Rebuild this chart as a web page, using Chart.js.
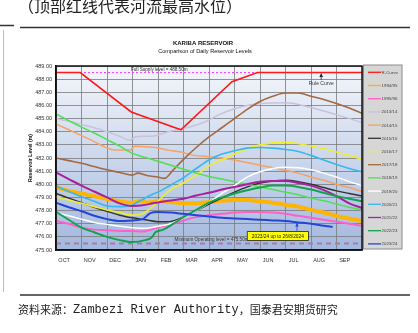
<!DOCTYPE html>
<html>
<head>
<meta charset="utf-8">
<script src="https://cdn.jsdelivr.net/npm/chart.js@4.4.1/dist/chart.umd.min.js"></script>
<style>
html, body { margin: 0; padding: 0; background: #fff; }
#wrap { position: relative; width: 418px; height: 333px; overflow: hidden; }
canvas { display: block; }
</style>
</head>
<body>
<div id="wrap"><canvas id="kariba" width="418" height="333"></canvas></div>
<script>
// hydrological year starts in October, x = months since 1 Oct
const months = ['OCT', 'NOV', 'DEC', 'JAN', 'FEB', 'MAR', 'APR', 'MAY', 'JUN', 'JUL', 'AUG', 'SEP'];
const levelMin = 475;
const levelMax = 489;
const fullSupply = 488.5;
const minOperating = 475.5;

// [month, level m]
const rCurve = [[0, 488.5], [0.95, 488.5], [2.95, 485.5], [4.9, 484.15], [6.9, 487.8], [7.9, 488.5], [12, 488.5]];
const y1994 = [[0, 479.8], [0.5, 479.5], [1, 479.3], [1.5, 479.1], [2, 478.9], [2.5, 478.7], [3, 478.6], [3.3, 478.75], [3.6, 478.6], [4, 478.7], [4.5, 478.65], [5, 478.55], [5.5, 478.55], [6, 478.65], [6.5, 478.75], [7, 478.8], [7.5, 478.8], [8, 478.7], [8.5, 478.6], [9, 478.45], [9.5, 478.3], [10, 478.05], [10.5, 477.85], [11, 477.6], [11.5, 477.4], [12, 477.2]];
const y1995 = [[0, 477.2], [0.5, 477.0], [1, 476.7], [1.5, 476.55], [2, 476.5], [2.5, 476.45], [3, 476.45], [3.4, 476.4], [3.8, 476.6], [4.2, 476.8], [4.6, 477.0], [5, 477.25], [5.5, 477.5], [6, 477.65], [6.5, 477.75], [7, 477.85], [7.5, 477.9], [8, 477.9], [8.5, 477.85], [9, 477.75], [9.5, 477.6], [10, 477.45], [10.5, 477.3], [11, 477.15], [11.5, 477.0], [12, 476.85]];
const y2013 = [[0, 485.0], [0.5, 484.8], [1, 484.55], [1.5, 484.3], [2, 484.0], [2.5, 483.65], [2.9, 483.35], [3.1, 483.6], [3.5, 483.65], [3.9, 483.7], [4.4, 484.0], [4.9, 484.2], [5.4, 484.45], [5.9, 484.8], [6.4, 485.3], [7, 485.75], [7.5, 486.0], [8, 486.15], [9, 486.2], [10, 485.85], [11, 485.3], [12, 484.7]];
const y2014 = [[0, 484.6], [0.5, 484.15], [1, 483.7], [1.5, 483.25], [1.9, 482.85], [2.3, 482.6], [2.9, 482.6], [3.1, 482.9], [3.5, 482.85], [3.9, 482.8], [4.4, 482.6], [4.9, 482.45], [5.4, 482.2], [6, 482.1], [6.5, 482.0], [7, 481.85], [7.5, 481.65], [8, 481.45], [8.5, 481.25], [9, 481.05], [9.5, 480.85], [10, 480.55], [10.5, 480.3], [11, 480.0], [11.5, 479.75], [12, 479.45]];
const y2015 = [[0, 479.3], [0.5, 478.95], [1, 478.6], [1.5, 478.25], [2, 477.95], [2.5, 477.65], [3, 477.45], [3.5, 477.3], [4, 477.15], [4.4, 477.15], [4.8, 477.35], [5.2, 477.7], [5.6, 478.1], [6, 478.5], [6.5, 478.95], [7, 479.4], [7.5, 479.8], [8, 480.1], [8.5, 480.25], [9, 480.3], [9.5, 480.2], [10, 480.0], [10.5, 479.75], [11, 479.5], [11.5, 479.3], [12, 479.1]];
const y2016 = [[0, 479.05], [0.5, 478.8], [1, 478.55], [1.5, 478.3], [2, 478.05], [2.5, 477.85], [3, 477.65], [3.3, 477.7], [3.6, 478.0], [3.9, 478.5], [4.2, 479.1], [4.5, 479.6], [5, 480.1], [5.5, 480.7], [6, 481.4], [6.5, 481.85], [7, 482.3], [7.5, 482.7], [8, 483.0], [8.5, 483.15], [9, 483.2], [9.5, 483.1], [10, 482.9], [10.5, 482.7], [11, 482.45], [11.5, 482.2], [12, 481.9]];
const y2017 = [[0, 482.0], [0.5, 481.8], [1, 481.6], [1.5, 481.35], [2, 481.1], [2.5, 480.9], [3, 480.7], [3.2, 480.85], [3.6, 480.65], [4, 480.55], [4.25, 480.45], [4.6, 481.1], [5, 481.9], [5.5, 482.8], [6, 483.6], [6.5, 484.3], [7, 485.0], [7.5, 485.7], [8, 486.3], [8.5, 486.7], [9, 486.95], [9.5, 486.95], [10, 486.7], [10.5, 486.45], [11, 486.15], [11.5, 485.8], [12, 485.4]];
const y2018 = [[0, 485.35], [0.5, 484.85], [1, 484.35], [1.5, 483.9], [2, 483.4], [2.5, 482.9], [3, 482.35], [3.5, 482.05], [4, 481.75], [4.5, 481.45], [5, 481.15], [5.5, 480.85], [6, 480.6], [6.5, 480.4], [7, 480.2], [7.5, 480.0], [8, 479.8], [8.5, 479.6], [9, 479.4], [9.5, 479.2], [10, 478.95], [10.5, 478.75], [11, 478.5], [11.5, 478.25], [12, 478.05]];
const y2019 = [[0, 477.85], [0.5, 477.6], [1, 477.35], [1.5, 477.1], [2, 476.95], [2.5, 476.8], [3, 476.7], [3.5, 476.65], [4, 476.8], [4.5, 477.0], [5, 477.45], [5.5, 478.0], [6, 478.6], [6.5, 479.3], [7, 479.9], [7.5, 480.55], [8, 480.95], [8.5, 481.2], [9, 481.3], [9.5, 481.25], [10, 481.1], [10.5, 480.85], [11, 480.55], [11.5, 480.2], [12, 479.9]];
const y2020 = [[0, 479.85], [0.5, 479.45], [1, 479.05], [1.5, 478.7], [2, 478.35], [2.5, 478.3], [2.9, 478.35], [3.3, 478.75], [3.75, 479.2], [4.1, 479.5], [4.5, 479.95], [5, 480.5], [5.5, 481.2], [6, 481.85], [6.5, 482.3], [7, 482.55], [7.5, 482.75], [8, 482.8], [8.5, 482.75], [9, 482.65], [9.5, 482.5], [10, 482.2], [10.5, 481.85], [11, 481.5], [11.5, 481.2], [12, 480.95]];
const y2021 = [[0, 480.9], [0.5, 480.4], [1, 479.9], [1.5, 479.45], [2, 479.0], [2.5, 478.55], [3, 478.35], [3.4, 478.4], [3.8, 478.55], [4.4, 478.75], [5, 478.9], [5.5, 479.15], [6, 479.35], [6.5, 479.6], [7, 479.8], [7.5, 480.0], [8, 480.2], [8.5, 480.25], [9, 480.25], [9.5, 480.1], [10, 479.9], [10.5, 479.55], [11, 479.1], [11.5, 478.55], [12, 478.2]];
const y2022 = [[0, 477.9], [0.5, 477.3], [1, 476.7], [1.5, 476.35], [2, 476.0], [2.5, 475.75], [3, 475.6], [3.5, 475.75], [3.75, 475.95], [3.9, 476.35], [4.2, 476.55], [4.6, 477.0], [5, 477.5], [5.5, 478.05], [6, 478.6], [6.5, 479.0], [7, 479.3], [7.5, 479.55], [8, 479.75], [8.5, 479.9], [9, 479.9], [9.5, 479.8], [10, 479.6], [10.5, 479.35], [11, 479.1], [11.5, 478.9], [12, 478.7]];
const y2023 = [[0, 478.6], [0.5, 478.25], [1, 477.95], [1.5, 477.6], [2, 477.35], [2.5, 477.2], [3, 477.25], [3.4, 477.35], [3.7, 477.8], [4, 477.9], [4.5, 477.85], [5, 477.75], [5.5, 477.65], [6, 477.55], [6.5, 477.45], [7, 477.4], [7.5, 477.35], [8, 477.3], [8.5, 477.25], [9, 477.2], [9.5, 477.1], [10, 477.0], [10.5, 476.85], [10.85, 476.75]];

const pts = arr => arr.map(([x, y]) => ({ x, y }));

function series(label, data, color, width) {
  return {
    label, data: pts(data), borderColor: color, backgroundColor: color,
    borderWidth: width, pointRadius: 0, cubicInterpolationMode: 'monotone', fill: false
  };
}

const datasets = [
  { label: 'R-Curve', data: pts(rCurve), borderColor: '#ff1a1a', backgroundColor: '#ff1a1a', borderWidth: 1.6, pointRadius: 0, tension: 0 },
  series('2023/24', y2023, '#2545d8', 2),
  series('2022/23', y2022, '#13a34f', 2),
  series('2021/22', y2021, '#a8219a', 2),
  series('2020/21', y2020, '#35b8ee', 1.6),
  series('2019/20', y2019, '#ffffff', 1.5),
  series('2018/19', y2018, '#4fe04f', 1.5),
  series('2017/18', y2017, '#a4693f', 1.6),
  series('2016/17', y2016, '#eeee30', 1.6),
  series('2015/16', y2015, '#333333', 1.5),
  series('2014/15', y2014, '#f5a262', 1.5),
  series('2013/14', y2013, '#c9c1dc', 1.5),
  series('1995/96', y1995, '#ff5fcb', 2),
  series('1994/95', y1994, '#ffb400', 4),
  { label: 'Full Supply', data: pts([[0, fullSupply], [12, fullSupply]]), borderColor: '#ff33ff', borderWidth: 1, borderDash: [2, 2], pointRadius: 0, noLegend: true },
  { label: 'Minimum Operating', data: pts([[0, minOperating], [12, minOperating]]), borderColor: '#a77aa7', borderWidth: 2, borderDash: [5, 4], pointRadius: 0, noLegend: true }
];

// order of the legend box
const legendOrder = ['R-Curve', '1994/95', '1995/96', '2013/14', '2014/15', '2015/16', '2016/17', '2017/18', '2018/19', '2019/20', '2020/21', '2021/22', '2022/23', '2023/24'];

const plotBackground = {
  id: 'plotBackground',
  beforeDraw(chart) {
    const { ctx, chartArea: a } = chart;
    ctx.save();
    ctx.fillStyle = '#fff';
    ctx.fillRect(0, 0, chart.width, chart.height);
    const g = ctx.createLinearGradient(0, a.top, 0, a.bottom);
    g.addColorStop(0, '#f4f6fb');
    g.addColorStop(1, '#a3b8de');
    ctx.fillStyle = g;
    ctx.fillRect(a.left, a.top, a.right - a.left, a.bottom - a.top);
    ctx.restore();
  }
};

function arrow(ctx, x, y1, y2, color) {
  ctx.strokeStyle = color;
  ctx.fillStyle = color;
  ctx.lineWidth = 0.8;
  ctx.beginPath();
  ctx.moveTo(x, y1);
  ctx.lineTo(x, y2);
  ctx.stroke();
  ctx.beginPath();
  ctx.moveTo(x, y2);
  ctx.lineTo(x - 1.8, y2 + 3.5);
  ctx.lineTo(x + 1.8, y2 + 3.5);
  ctx.closePath();
  ctx.fill();
}

const decorations = {
  id: 'decorations',
  afterDatasetsDraw(chart) {
    const { ctx, chartArea: a, scales: { x, y } } = chart;
    ctx.save();
    // frame
    ctx.strokeStyle = '#111';
    ctx.lineWidth = 1.5;
    ctx.strokeRect(a.left, a.top, a.right - a.left, a.bottom - a.top);

    ctx.font = '4.6px "Liberation Sans", Arial, sans-serif';
    ctx.fillStyle = '#333';
    ctx.textAlign = 'center';
    ctx.textBaseline = 'bottom';
    ctx.fillText('Full Supply level = 488.50m', x.getPixelForValue(4.05), y.getPixelForValue(fullSupply) - 1);
    ctx.fillText('Minimum Operating level = 475.50m', x.getPixelForValue(6.1), y.getPixelForValue(minOperating) - 1.5);

    // rule curve pointer
    const rx = x.getPixelForValue(10.4);
    arrow(ctx, rx, y.getPixelForValue(487.95), y.getPixelForValue(fullSupply) + 1, '#222');
    ctx.fillStyle = '#333';
    ctx.font = '5px "Liberation Sans", Arial, sans-serif';
    ctx.textBaseline = 'top';
    ctx.fillText('Rule Curve', rx, y.getPixelForValue(487.88));

    // latest season tag
    const bx1 = x.getPixelForValue(7.5), bx2 = x.getPixelForValue(9.9);
    const by1 = y.getPixelForValue(476.4), by2 = y.getPixelForValue(475.72);
    ctx.fillStyle = '#ffff00';
    ctx.fillRect(bx1, by1, bx2 - bx1, by2 - by1);
    ctx.strokeStyle = '#222';
    ctx.lineWidth = 0.8;
    ctx.strokeRect(bx1, by1, bx2 - bx1, by2 - by1);
    ctx.fillStyle = '#111';
    ctx.textBaseline = 'middle';
    ctx.font = '4.8px "Liberation Sans", Arial, sans-serif';
    ctx.fillText('2023/24 up to 26/8/2024', (bx1 + bx2) / 2, (by1 + by2) / 2 + 0.3);
    arrow(ctx, x.getPixelForValue(9.45), by1, y.getPixelForValue(477.05), '#2545d8');
    ctx.restore();
  },
  afterDraw(chart) {
    const { ctx, chartArea: a } = chart;
    ctx.save();
    // titles
    ctx.fillStyle = '#111';
    ctx.textAlign = 'center';
    ctx.textBaseline = 'middle';
    ctx.font = 'bold 6px "Liberation Sans", Arial, sans-serif';
    ctx.fillText('KARIBA RESERVOIR', 203, 43.5);
    ctx.font = '5.6px "Liberation Sans", Arial, sans-serif';
    ctx.fillText('Comparison of Daily Reservoir Levels', 205, 51.5);

    ctx.save();
    ctx.translate(31, (a.top + a.bottom) / 2);
    ctx.rotate(-Math.PI / 2);
    ctx.font = 'bold 5.2px "Liberation Sans", Arial, sans-serif';
    ctx.fillText('Reservoir Level (m)', 0, 0);
    ctx.restore();

    // legend box
    const lx = 363.5, ly = 65, lw = 38.5, lh = 184;
    ctx.fillStyle = '#d6d6d6';
    ctx.fillRect(lx, ly, lw, lh);
    ctx.strokeStyle = '#8c8c8c';
    ctx.lineWidth = 1;
    ctx.strokeRect(lx, ly, lw, lh);
    ctx.textAlign = 'left';
    ctx.font = '4.4px "Liberation Sans", Arial, sans-serif';
    legendOrder.forEach((name, i) => {
      const ds = chart.data.datasets.find(d => d.label === name);
      const yy = 72.3 + i * 13.2;
      ctx.strokeStyle = ds.borderColor;
      ctx.lineWidth = 1.3;
      ctx.beginPath();
      ctx.moveTo(368, yy);
      ctx.lineTo(381, yy);
      ctx.stroke();
      ctx.fillStyle = '#444';
      ctx.fillText(name, 381.5, yy + 0.3);
    });

    // page heading and source
    ctx.fillStyle = '#222';
    ctx.font = '16px "Noto Sans CJK SC", sans-serif';
    ctx.textAlign = 'left';
    ctx.textBaseline = 'middle';
    ctx.fillText('（顶部红线代表河流最高水位）', 18, 6);
    ctx.strokeStyle = '#333';
    ctx.lineWidth = 1.5;
    ctx.beginPath();
    ctx.moveTo(20, 27.5); ctx.lineTo(410, 27.5);
    ctx.moveTo(20, 295); ctx.lineTo(410, 295);
    ctx.moveTo(0, 25.5); ctx.lineTo(14, 25.5);
    ctx.stroke();
    ctx.strokeStyle = '#b8bccb';
    ctx.lineWidth = 1;
    ctx.beginPath();
    ctx.moveTo(3.5, 30); ctx.lineTo(3.5, 292);
    ctx.stroke();

    let sx = 18;
    const sy = 310;
    ctx.fillStyle = '#222';
    ctx.font = '11px "Noto Sans CJK SC", sans-serif';
    ctx.fillText('资料来源：', sx, sy);
    sx += ctx.measureText('资料来源：').width;
    ctx.font = '12px "Liberation Mono", "DejaVu Sans Mono", monospace';
    ctx.fillText('Zambezi River Authority', sx, sy);
    sx += ctx.measureText('Zambezi River Authority').width;
    ctx.font = '11px "Noto Sans CJK SC", sans-serif';
    ctx.fillText('，国泰君安期货研究', sx, sy);
    ctx.restore();
  }
};

const tickFont = { family: '"Liberation Sans", Arial, sans-serif', size: 5.5 };

new Chart(document.getElementById('kariba'), {
  type: 'line',
  data: { datasets },
  options: {
    responsive: false,
    devicePixelRatio: 1,
    animation: false,
    layout: { padding: { left: 0, top: 66, right: 56, bottom: 63 } },
    plugins: { legend: { display: false }, tooltip: { enabled: false }, title: { display: false } },
    scales: {
      x: {
        type: 'linear', min: 0, max: 12,
        afterFit: s => { s.height = 20; },
        afterBuildTicks: s => {
          const t = [];
          for (let i = 0; i <= 12; i++) t.push({ value: i });
          months.forEach((m, i) => t.push({ value: i + 0.32 }));
          s.ticks = t.sort((p, q) => p.value - q.value);
        },
        grid: {
          drawTicks: false, lineWidth: 0.8,
          color: c => (c.tick && Number.isInteger(c.tick.value)) ? '#7a7a7a' : 'rgba(0,0,0,0)'
        },
        border: { color: '#111', width: 1.5 },
        ticks: {
          autoSkip: false, maxRotation: 0, padding: 7, color: '#333', font: tickFont,
          callback: v => Number.isInteger(v) ? '' : months[Math.floor(v)]
        }
      },
      y: {
        min: levelMin, max: levelMax,
        afterFit: s => { s.width = 56; },
        grid: { drawTicks: false, color: '#7a7a7a', lineWidth: 0.8 },
        border: { color: '#111', width: 1.5 },
        ticks: { stepSize: 1, padding: 4, color: '#333', font: tickFont, callback: v => v.toFixed(2) }
      }
    }
  },
  plugins: [plotBackground, decorations]
});
</script>
</body>
</html>
